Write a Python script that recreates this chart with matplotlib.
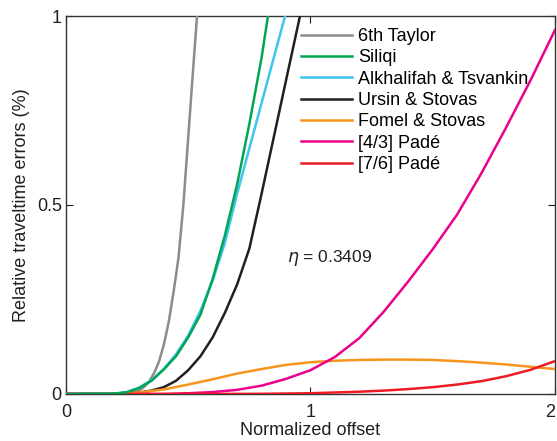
import numpy as np
import matplotlib.pyplot as plt

plt.rcParams['font.family'] = ['Liberation Sans', 'DejaVu Sans']

# values (normalized offset, relative error %)
x_taylor = [0.0, 0.2, 0.24, 0.27, 0.30, 0.32, 0.34, 0.36, 0.38, 0.40, 0.42, 0.44, 0.46, 0.48, 0.50, 0.52, 0.536]
y_taylor = [0.0, 0.0003, 0.0015, 0.004, 0.010, 0.019, 0.033, 0.055, 0.085, 0.13, 0.19, 0.27, 0.36, 0.50,
            0.68, 0.86, 1.0]

x_siliqi = [0.0, 0.2, 0.25, 0.3, 0.35, 0.4, 0.45, 0.5, 0.55, 0.6, 0.65, 0.7, 0.75, 0.8, 0.826]
y_siliqi = [0.0, 0.001, 0.005, 0.016, 0.035, 0.065, 0.10, 0.15, 0.21, 0.305, 0.42, 0.555, 0.715, 0.89, 1.0]

x_alk = [0.0, 0.2, 0.25, 0.3, 0.35, 0.4, 0.45, 0.5, 0.55, 0.6, 0.65, 0.7, 0.75, 0.8, 0.85, 0.896]
y_alk = [0.0, 0.001, 0.005, 0.017, 0.037, 0.066, 0.105, 0.155, 0.22, 0.30, 0.40, 0.53, 0.65, 0.77, 0.89, 1.0]

x_ursin = [0.0, 0.25, 0.3, 0.35, 0.4, 0.45, 0.5, 0.55, 0.6, 0.65, 0.7, 0.75, 0.8, 0.85, 0.9, 0.957]
y_ursin = [0.0, 0.001, 0.004, 0.009, 0.018, 0.035, 0.063, 0.10, 0.15, 0.215, 0.29, 0.385, 0.53, 0.68, 0.83, 1.0]

x_fomel = [0.0, 0.15, 0.2, 0.3, 0.4, 0.5, 0.6, 0.7, 0.8, 0.9, 1.0, 1.1, 1.2, 1.3, 1.4, 1.5, 1.6, 1.7, 1.8, 1.9, 2.0]
y_fomel = [0.0, 0.0, 0.001, 0.004, 0.012, 0.025, 0.039, 0.054, 0.066, 0.077, 0.084, 0.088, 0.090, 0.091,
           0.091, 0.090, 0.087, 0.083, 0.078, 0.072, 0.066]

x_pade43 = [0.0, 0.4, 0.5, 0.6, 0.7, 0.8, 0.9, 1.0, 1.1, 1.2, 1.3, 1.4, 1.5, 1.6, 1.7, 1.8, 1.9, 2.0]
y_pade43 = [0.0, 0.0, 0.002, 0.005, 0.011, 0.022, 0.040, 0.063, 0.098, 0.148, 0.218, 0.298, 0.383, 0.475,
            0.585, 0.705, 0.83, 0.963]

x_pade76 = [0.0, 0.5, 0.8, 1.0, 1.1, 1.2, 1.3, 1.4, 1.5, 1.6, 1.7, 1.8, 1.9, 2.0]
y_pade76 = [0.0, 0.0, 0.0005, 0.002, 0.004, 0.006, 0.009, 0.013, 0.018, 0.025, 0.034, 0.047, 0.064, 0.087]

fig = plt.figure(figsize=(5.57, 4.41), dpi=100)
ax = fig.add_axes([0.1185, 0.1066, 0.8779, 0.8571])

lw = 1.8
ax.plot(x_taylor, y_taylor, color='#8c8c8c', lw=lw, label='6th Taylor', zorder=3)
ax.plot(x_siliqi, y_siliqi, color='#00a651', lw=lw, label='Siliqi', zorder=5)
ax.plot(x_alk, y_alk, color='#3fc4f0', lw=lw, label='Alkhalifah & Tsvankin', zorder=4)
ax.plot(x_ursin, y_ursin, color='#231f20', lw=lw, label='Ursin & Stovas', zorder=3)
ax.plot(x_fomel, y_fomel, color='#f7941d', lw=lw, label='Fomel & Stovas', zorder=3)
ax.plot(x_pade43, y_pade43, color='#ec008c', lw=lw, label='[4/3] Padé', zorder=3)
ax.plot(x_pade76, y_pade76, color='#ed1c24', lw=lw, label='[7/6] Padé', zorder=4)

ax.set_xlim(0, 2)
ax.set_ylim(0, 1)
ax.set_xticks([0, 1, 2])
ax.set_xticklabels(['0', '1', '2'])
ax.get_xticklabels()[-1].set_horizontalalignment('right')
ax.set_yticks([0, 0.5, 1])
ax.set_yticklabels(['0', '0.5', '1'])
ax.tick_params(direction='in', length=5, width=0.8, top=True, right=True,
               labelsize=13, colors='#231f20')
ax.tick_params(axis='x', pad=7)
ax.tick_params(axis='y', pad=3)
for s in ax.spines.values():
    s.set_color('#333333')
    s.set_linewidth(1.0)

ax.set_xlabel('Normalized offset', fontsize=13, color='#231f20', labelpad=1)
ax.set_ylabel('Relative traveltime errors (%)', fontsize=13, color='#231f20', labelpad=5)

ax.text(0.905, 0.36, r'$\eta$ = 0.3409', fontsize=12.5, color='#231f20', ha='left', va='center')

ax.legend(loc='upper left', bbox_to_anchor=(0.4806, 0.968), frameon=False, fontsize=13,
          handlelength=2.83, handletextpad=0.33, labelspacing=0.24, borderpad=0, borderaxespad=0)

fig.savefig('out.png', dpi=100)
